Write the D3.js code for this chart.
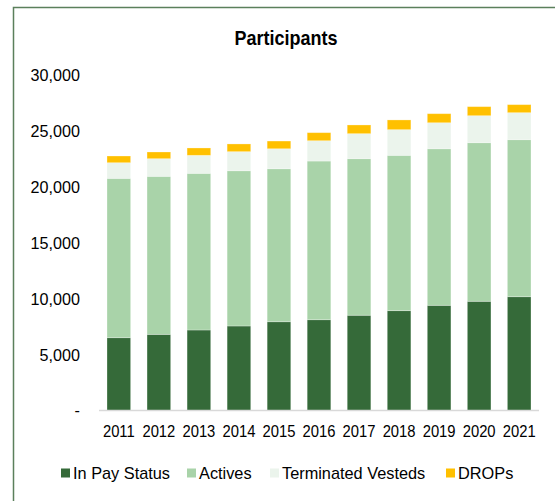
<!DOCTYPE html>
<html><head><meta charset="utf-8">
<script src="https://cdn.jsdelivr.net/npm/d3@7"></script>
<style>body{margin:0;background:#fff}svg{display:block;font-family:"Liberation Sans",Arial,sans-serif}</style>
</head><body><svg id="c" width="555" height="501"></svg>
<script>
const years = ["2011","2012","2013","2014","2015","2016","2017","2018","2019","2020","2021"];
const inPayStatus = [6520,6820,7210,7570,7950,8130,8530,8940,9420,9780,10190];
const actives = [14270,14150,14030,13900,13700,14210,14020,13910,14020,14200,14060];
const terminatedVesteds = [1400,1580,1610,1710,1790,1820,2240,2300,2330,2420,2420];
const drops = [600,600,660,690,690,720,780,870,810,810,720];
const seriesNames = ["In Pay Status","Actives","Terminated Vesteds","DROPs"];
const colors = ["#356a39","#a9d3a9","#ebf4ec","#ffc000"];
const yTicks = [0,5000,10000,15000,20000,25000,30000];

const svg = d3.select("#c");
// frame
svg.append("path").attr("d","M13.5,501 L13.5,7.5 L555,7.5").attr("fill","none").attr("stroke","#5b805c").attr("stroke-width",1.5);

const x = d3.scaleBand().domain(years).range([99,539]).paddingInner(0.41).paddingOuter(0.2);
const y = d3.scaleLinear().domain([0,30000]).range([410.5,75.5]);

const table = years.map((yr,i)=>({year:yr,"In Pay Status":inPayStatus[i],"Actives":actives[i],"Terminated Vesteds":terminatedVesteds[i],"DROPs":drops[i]}));
const stacked = d3.stack().keys(seriesNames)(table);

svg.append("text").attr("transform","translate(286,38) scale(0.9,1)").attr("text-anchor","middle").attr("dominant-baseline","central")
  .attr("font-size",20).attr("font-weight","bold").attr("fill","#000").text("Participants");

// y axis labels
const yAxis = d3.axisLeft(y).tickValues(yTicks).tickSize(0).tickPadding(0)
  .tickFormat(d=> d===0 ? "-" : d3.format(",")(d));
const gy = svg.append("g").attr("transform","translate(80,0)").call(yAxis);
gy.select(".domain").remove();
gy.selectAll("text").attr("font-size",17).attr("fill","#000").attr("transform","scale(0.95,1)")
  .attr("font-family","Liberation Sans, Arial, sans-serif");

// bars
const g = svg.append("g");
stacked.forEach((s,si)=>{
  g.selectAll(null).data(s).enter().append("rect")
    .attr("x",d=>x(d.data.year)).attr("width",x.bandwidth())
    .attr("y",d=>y(d[1])).attr("height",d=>y(d[0])-y(d[1]))
    .attr("fill",colors[si]).attr("stroke","#ffffff").attr("stroke-opacity",0.35).attr("stroke-width",0.8);
});

// x axis
const xAxis = d3.axisBottom(x).tickSize(0).tickPadding(14);
const gx = svg.append("g").attr("transform","translate(0,410.5)").call(xAxis);
gx.select(".domain").attr("stroke","#d9d9d9").attr("stroke-width",1.5).attr("d","M99,0H539");
gx.selectAll("text").attr("font-size",17).attr("fill","#000").attr("transform","scale(0.87,1)")
  .attr("font-family","Liberation Sans, Arial, sans-serif");

// legend
const legendX = [61,187,270,446];
const lg = svg.append("g");
seriesNames.forEach((n,i)=>{
  lg.append("rect").attr("x",legendX[i]).attr("y",468.5).attr("width",9).attr("height",9).attr("fill",colors[i]);
  lg.append("text").attr("transform",`translate(${legendX[i]+12},473) scale(0.96,1)`).attr("dominant-baseline","central")
    .attr("font-size",17).attr("fill","#000").text(n);
});
</script></body></html>
